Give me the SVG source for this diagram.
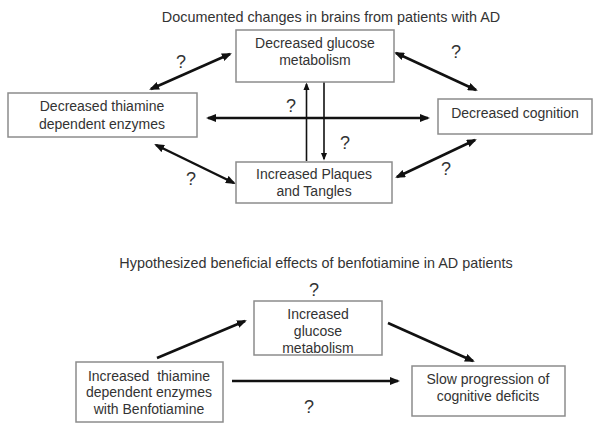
<svg xmlns="http://www.w3.org/2000/svg" width="600" height="429" viewBox="0 0 600 429">
<defs>
<style>
.box{fill:#fff;stroke:#8c8c8c;stroke-width:1.5}
.t{font-family:"Liberation Sans",Arial,sans-serif;font-size:14px;fill:#333;text-anchor:middle}
.ti{font-family:"Liberation Sans",Arial,sans-serif;font-size:14.4px;fill:#333;text-anchor:middle}
.q{font-family:"Liberation Sans",Arial,sans-serif;font-size:18px;fill:#333;text-anchor:middle}
.a{stroke:#111;fill:none;stroke-width:2.5}
.v{stroke:#111;fill:none;stroke-width:1.6}
</style>
<marker id="h" viewBox="0 0 10 8" refX="8" refY="4" markerWidth="10" markerHeight="8" markerUnits="userSpaceOnUse" orient="auto-start-reverse"><path d="M0,0 L10,4 L0,8 z" fill="#111"/></marker>
<marker id="hs" viewBox="0 0 10 8" refX="8" refY="4" markerWidth="8" markerHeight="6.5" markerUnits="userSpaceOnUse" orient="auto-start-reverse"><path d="M0,0 L10,4 L0,8 z" fill="#111"/></marker>
</defs>
<rect width="600" height="429" fill="#fff"/>
<text class="ti" x="331" y="22">Documented changes in brains from patients with AD</text>
<text class="ti" x="316" y="268">Hypothesized beneficial effects of benfotiamine in AD patients</text>
<g id="connectors">
<line class="a" x1="151" y1="89" x2="230" y2="54" marker-start="url(#h)" marker-end="url(#h)"/>
<line class="a" x1="396" y1="53" x2="476" y2="90" marker-start="url(#h)" marker-end="url(#h)"/>
<line class="a" x1="208" y1="118" x2="428" y2="118" marker-start="url(#h)" marker-end="url(#h)"/>
<line class="v" x1="306.5" y1="161" x2="306.5" y2="84" marker-end="url(#hs)"/>
<line class="v" x1="324" y1="82" x2="324" y2="159" marker-end="url(#hs)"/>
<line class="a" x1="156" y1="145" x2="234" y2="183" marker-start="url(#h)" marker-end="url(#h)"/>
<line class="a" x1="397" y1="177" x2="475" y2="140" marker-start="url(#h)" marker-end="url(#h)"/>
<line class="a" x1="157" y1="358" x2="245" y2="321" marker-end="url(#h)"/>
<line class="a" x1="388" y1="323" x2="473" y2="361" marker-end="url(#h)"/>
<line class="a" x1="232" y1="381" x2="398" y2="381" marker-end="url(#h)"/>
</g>
<g id="n1"><rect class="box" x="236" y="30" width="158" height="52"/><text class="t" x="315" y="48">Decreased glucose</text><text class="t" x="315" y="65">metabolism</text></g>
<g id="n2"><rect class="box" x="8" y="93" width="189" height="44"/><text class="t" x="102" y="111">Decreased thiamine</text><text class="t" x="102" y="129">dependent enzymes</text></g>
<g id="n3"><rect class="box" x="438" y="99" width="154" height="35"/><text class="t" x="515" y="118">Decreased cognition</text></g>
<g id="n4"><rect class="box" x="236" y="162" width="156" height="41"/><text class="t" x="314" y="179">Increased Plaques</text><text class="t" x="314" y="196">and Tangles</text></g>
<g id="n5"><rect class="box" x="254" y="301" width="128" height="54"/><text class="t" x="318" y="319">Increased</text><text class="t" x="318" y="336">glucose</text><text class="t" x="318" y="353">metabolism</text></g>
<g id="n6"><rect class="box" x="76" y="362" width="147" height="60"/><text class="t" x="149" y="381">Increased&#160; thiamine</text><text class="t" x="149" y="397">dependent enzymes</text><text class="t" x="149" y="414">with Benfotiamine</text></g>
<g id="n7"><rect class="box" x="412" y="366" width="153" height="50"/><text class="t" x="488" y="384">Slow progression of</text><text class="t" x="488" y="401">cognitive deficits</text></g>
<g id="labels">
<text class="q" x="181" y="68">?</text>
<text class="q" x="456" y="58">?</text>
<text class="q" x="291" y="112">?</text>
<text class="q" x="345" y="149">?</text>
<text class="q" x="191" y="185">?</text>
<text class="q" x="446" y="175">?</text>
<text class="q" x="314" y="296">?</text>
<text class="q" x="309" y="413">?</text>
</g>
</svg>
